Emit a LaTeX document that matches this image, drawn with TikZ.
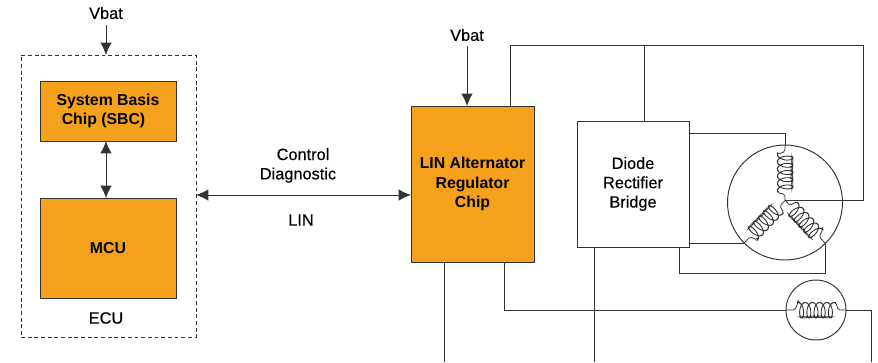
\documentclass[tikz,border=0pt]{standalone}
\usepackage{fontspec}
\setmainfont{Liberation Sans}
\newfontfamily\medfont[FakeBold=0.25]{Liberation Sans}
\usepackage{tikz}
\usetikzlibrary{arrows.meta}
\definecolor{boxorange}{HTML}{F5A11C}
\definecolor{wirecol}{HTML}{333333}
\tikzstyle{line} = [draw, wirecol, line width = 0.55pt]
\tikzstyle{arrowline} = [line, -{Latex[length=7pt, width=6.5pt]}]
\tikzstyle{dblarrow} = [line, {Latex[length=7pt, width=6.5pt]}-{Latex[length=7pt, width=6.5pt]}]
\tikzstyle{lbl} = [align=center, inner sep = 0pt, text=black, font=\fontsize{9.3}{11}\selectfont\medfont]
\tikzstyle{blbl} = [lbl, font=\fontsize{9}{11}\selectfont\bfseries]
\tikzstyle{obox} = [draw=wirecol, line width = 0.55pt, fill=boxorange, outer sep = 0pt]
\tikzstyle{wbox} = [draw=wirecol, line width = 0.55pt, fill=white, outer sep = 0pt]
\tikzstyle{ecubox} = [draw=wirecol, line width = 0.45pt, dash pattern=on 2.2pt off 1.6pt, outer sep = 0pt]
\tikzstyle{motor} = [circle, draw=wirecol, line width = 0.55pt, outer sep = 0pt, inner sep = 0pt]
% one winding, five loops, laid along x with its length as argument
\tikzset{pics/winding/.style={code={
	\pgfmathsetmacro{\ustart}{(#1-36)/2}
	\pgfmathsetmacro{\uend}{(#1+36)/2}
	\path [line, line width = 0.45pt, rounded corners=1pt] (0, 0) -- (\ustart-3, 0) -- (\ustart, 7.5)
		-- plot [domain=0:1800, samples=220, variable=\t] ({\ustart+\t/360*7.2+3.6*sin(\t)}, {7.5*cos(\t)})
		-- (\uend+2, 7.5) -- (\uend+4, 0) -- (#1, 0);
}}}

\begin{document}
\begin{tikzpicture}[x=0.02cm, y=-0.02cm]
	\useasboundingbox (0, 0) rectangle (878, 362);

	\node [ecubox, minimum width=3.5cm, minimum height=5.64cm] (ecu) at (108.5, 196) {};
	\node [obox, blbl, minimum width=2.72cm, minimum height=1.2cm] (sbc) at (108, 111) {System Basis\\Chip (SBC)\hspace*{0.18cm}};
	\node [obox, blbl, minimum width=2.72cm, minimum height=2cm] (mcu) at (108, 248) {MCU};
	\node [obox, blbl, minimum width=2.46cm, minimum height=3.12cm] (alt) at (472.5, 184) {LIN Alternator\\Regulator\\Chip};
	\node [wbox, lbl, minimum width=2.24cm, minimum height=2.52cm] (bridge) at (633, 184) {Diode\\Rectifier\\Bridge};
	\node [motor, minimum size=2.3cm] (stator) at (785, 202.5) {};
	\node [motor, minimum size=1.2cm] (field) at (816, 310) {};

	\node [lbl] (vbata) at (106, 13) {Vbat};
	\node [lbl] (vbatb) at (467, 35) {Vbat};
	\node [lbl] (ecutxt) at (106, 318) {ECU};
	\node [lbl] (ctrl) at (298, 165.5) {\hspace*{0.2cm}Control\\Diagnostic};
	\node [lbl] (lin) at (301, 220) {LIN};

	% corners and free ends of the wires
	\coordinate (vbataend) at (106, 25);
	\coordinate (vbatbend) at (467, 46);
	\coordinate (top) at (510, 45);
	\coordinate (topr) at (863, 45);
	\coordinate (star) at (785, 200);
	\coordinate (starr) at (863, 200);
	\coordinate (taptop) at (644, 45);
	\coordinate (ua) at (785, 133);
	\coordinate (ub) at (785, 145);
	\coordinate (va) at (744, 243);
	\coordinate (wa) at (825, 243);
	\coordinate (wb) at (825, 273);
	\coordinate (wc) at (679, 273);
	\coordinate (exca) at (504, 310);
	\coordinate (excb) at (871, 310);
	\coordinate (excc) at (871, 362);
	\coordinate (gnda) at (444, 362);
	\coordinate (gndb) at (594, 362);
	\coordinate (linrow) at (300, 195);

	\path [arrowline] (vbataend) -- (ecu.north -| vbataend);
	\path [arrowline] (vbatbend) -- (alt.north -| vbatbend);
	\path [dblarrow] (sbc.south -| vbataend) -- (mcu.north -| vbataend);
	\path [dblarrow] (ecu.east |- linrow) -- (alt.west |- linrow);

	\path [line] (alt.north -| top) -- (top) -- (topr) -- (starr) -- (star);
	\path [line] (taptop) -- (bridge.north -| taptop);
	\path [line] (bridge.east |- ua) -- (ua) -- (ub);
	\path [line] (bridge.east |- va) -- (va);
	\path [line] (bridge.south -| wc) -- (wc) -- (wb) -- (wa);
	\path [line] (bridge.south -| gndb) -- (gndb);
	\path [line] (alt.south -| gnda) -- (gnda);
	\path [line] (alt.south -| exca) -- (exca) -- (field.west);
	\path [line] (field.east) -- (excb) -- (excc);

	\pic [rotate=-90] at (ub) {winding={55}};
	\pic [rotate=46] at (va) {winding={59}};
	\pic [rotate=133] at (wa) {winding={59}};
	\pic [yscale=-1] at (field.west) {winding={60}};
\end{tikzpicture}
\end{document}
